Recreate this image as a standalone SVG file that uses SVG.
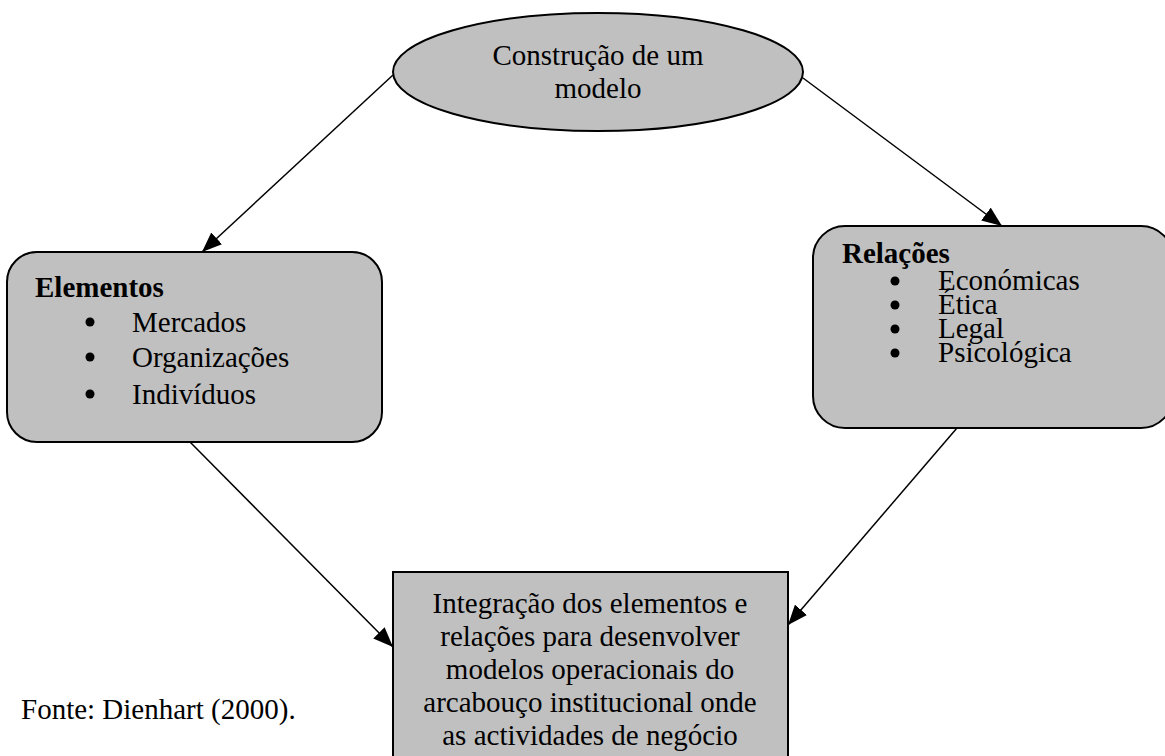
<svg xmlns="http://www.w3.org/2000/svg" width="1165" height="756" viewBox="0 0 1165 756">
<style>
.shape{fill:#c0c0c0;stroke:#000;stroke-width:2}
.t{font-family:"Liberation Serif","Times New Roman",serif;font-size:29px;fill:#000}
.c{text-anchor:middle}
.b{font-weight:bold}
.conn{stroke:#000;stroke-width:1.5;fill:none;marker-end:url(#ah)}
</style>
<defs>
<marker id="ah" markerUnits="userSpaceOnUse" markerWidth="22" markerHeight="16" refX="20" refY="8" orient="auto">
<path d="M0,0 L20,8 L0,16 Z" fill="#000"/>
</marker>
</defs>
<rect width="1165" height="756" fill="#fff"/>
<g id="connectors">
<line class="conn" x1="393" y1="75" x2="202" y2="252"/>
<line class="conn" x1="803" y1="78" x2="1002" y2="226"/>
<line class="conn" x1="190" y1="442" x2="393" y2="647"/>
<line class="conn" x1="957" y1="428" x2="788" y2="625"/>
</g>
<g id="node-construcao">
<ellipse class="shape" cx="598" cy="72" rx="205" ry="59"/>
<text class="t c" x="598" y="65">Construção de um</text>
<text class="t c" x="598" y="98">modelo</text>
</g>
<g id="node-elementos">
<rect class="shape" x="7" y="252" width="375" height="190" rx="30" ry="30"/>
<text class="t b" x="35" y="297">Elementos</text>
<circle cx="90" cy="322" r="4.5"/>
<text class="t" x="132" y="332">Mercados</text>
<circle cx="90" cy="357" r="4.5"/>
<text class="t" x="132" y="367">Organizações</text>
<circle cx="90" cy="394" r="4.5"/>
<text class="t" x="132" y="404">Indivíduos</text>
</g>
<g id="node-relacoes">
<rect class="shape" x="813" y="226" width="360" height="202" rx="32" ry="32"/>
<text class="t b" x="842" y="263">Relações</text>
<circle cx="895" cy="281" r="4.5"/>
<text class="t" x="938" y="290">Económicas</text>
<circle cx="895" cy="305" r="4.5"/>
<text class="t" x="938" y="314">Ética</text>
<circle cx="895" cy="329" r="4.5"/>
<text class="t" x="938" y="338">Legal</text>
<circle cx="895" cy="353" r="4.5"/>
<text class="t" x="938" y="362">Psicológica</text>
</g>
<g id="node-integracao">
<rect class="shape" x="393" y="572" width="395" height="200"/>
<text class="t c" x="590" y="613">Integração dos elementos e</text>
<text class="t c" x="590" y="646">relações para desenvolver</text>
<text class="t c" x="590" y="679">modelos operacionais do</text>
<text class="t c" x="590" y="712">arcabouço institucional onde</text>
<text class="t c" x="590" y="745">as actividades de negócio</text>
</g>
<g id="fonte">
<text class="t" x="21" y="719">Fonte: Dienhart (2000).</text>
</g>
</svg>
